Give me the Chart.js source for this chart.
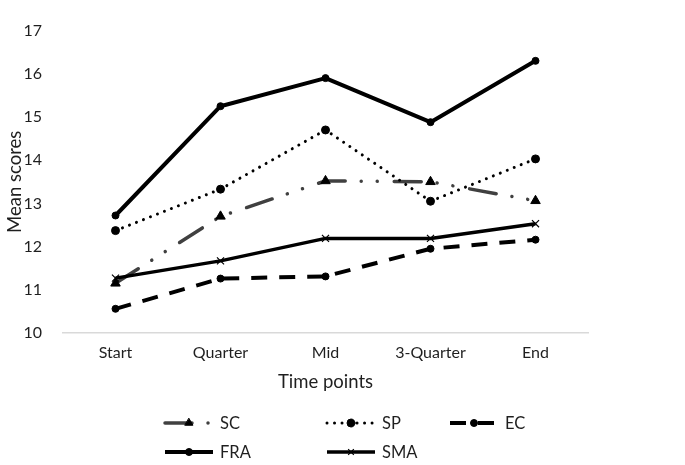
<!DOCTYPE html>
<html>
<head>
<meta charset="utf-8">
<script src="https://cdn.jsdelivr.net/npm/chart.js@4/dist/chart.umd.min.js"></script>
<style>
  html, body { margin: 0; padding: 0; background: #fff; }
  #wrap { width: 685px; height: 465px; }
</style>
</head>
<body>
<div id="wrap"><canvas id="c" width="685" height="465"></canvas></div>
<script>
const categories = ["Start", "Quarter", "Mid", "3-Quarter", "End"];
const seriesNames = ["SC", "SP", "EC", "FRA", "SMA"];
const scValues  = [11.15, 12.70, 13.52, 13.50, 13.06];
const spValues  = [12.37, 13.33, 14.70, 13.05, 14.03];
const ecValues  = [10.56, 11.26, 11.31, 11.95, 12.16];
const fraValues = [12.72, 15.25, 15.90, 14.88, 16.30];
const smaValues = [11.27, 11.67, 12.19, 12.19, 12.53];
const yTicks = [10, 11, 12, 13, 14, 15, 16, 17];
const yTitle = "Mean scores";
const xTitle = "Time points";

const FONT = "Lato, 'Liberation Sans', sans-serif";
const TEXT = "#1f1f1f";

const styles = {
  SC:  { borderColor: "#404040", borderWidth: 3.5, borderDash: [27, 16, 0.01, 16, 0.01, 17], borderCapStyle: "round",
         pointStyle: "triangle", pointRadius: 5.5, legendRadius: 4.5, pointBackgroundColor: "#000", pointBorderColor: "#000", pointBorderWidth: 1 },
  SP:  { borderColor: "#000", borderWidth: 3, borderDash: [0.01, 7.5], borderCapStyle: "round",
         pointStyle: "circle", pointRadius: 4, legendRadius: 4, pointBackgroundColor: "#000", pointBorderColor: "#000", pointBorderWidth: 1 },
  EC:  { borderColor: "#000", borderWidth: 4, borderDash: [16, 12], borderCapStyle: "butt",
         pointStyle: "circle", pointRadius: 3.5, legendRadius: 3.5, pointBackgroundColor: "#000", pointBorderColor: "#000", pointBorderWidth: 1 },
  FRA: { borderColor: "#000", borderWidth: 4, borderDash: [], borderCapStyle: "butt",
         pointStyle: "circle", pointRadius: 3.5, legendRadius: 3.5, pointBackgroundColor: "#000", pointBorderColor: "#000", pointBorderWidth: 1 },
  SMA: { borderColor: "#000", borderWidth: 3.5, borderDash: [], borderCapStyle: "butt",
         pointStyle: "crossRot", pointRadius: 5, legendRadius: 4, pointBackgroundColor: "#000", pointBorderColor: "#000", pointBorderWidth: 1.2 }
};
const valuesByName = { SC: scValues, SP: spValues, EC: ecValues, FRA: fraValues, SMA: smaValues };

const datasets = seriesNames.map((n, i) => {
  const s = styles[n];
  return {
    label: n,
    data: valuesByName[n],
    fill: false,
    tension: 0,
    borderJoinStyle: "round",
    order: seriesNames.length - i,
    borderColor: s.borderColor,
    borderWidth: s.borderWidth,
    borderDash: s.borderDash,
    borderCapStyle: s.borderCapStyle,
    pointStyle: s.pointStyle,
    pointRadius: s.pointRadius,
    pointBackgroundColor: s.pointBackgroundColor,
    pointBorderColor: s.pointBorderColor,
    pointBorderWidth: s.pointBorderWidth
  };
});

// custom legend in two rows like the reference
const legendPlugin = {
  id: "gridLegend",
  afterDraw(chart) {
    const ctx = chart.ctx;
    const cols = [165, 327, 450];
    const rows = [423, 452];
    const sampleLen = 48;
    seriesNames.forEach((n, i) => {
      const s = styles[n];
      const x = cols[i % 3];
      const y = rows[Math.floor(i / 3)];
      ctx.save();
      ctx.strokeStyle = s.borderColor;
      ctx.lineWidth = s.borderWidth;
      ctx.lineCap = s.borderCapStyle;
      ctx.setLineDash(s.borderDash);
      ctx.beginPath();
      ctx.moveTo(x, y);
      ctx.lineTo(x + sampleLen, y);
      ctx.stroke();
      ctx.setLineDash([]);
      ctx.fillStyle = s.pointBackgroundColor;
      ctx.strokeStyle = s.pointBorderColor;
      ctx.lineWidth = s.pointBorderWidth;
      Chart.helpers.drawPoint(ctx, {
        pointStyle: s.pointStyle,
        radius: s.legendRadius,
        borderWidth: s.pointBorderWidth,
        rotation: 0
      }, x + sampleLen / 2, y);
      ctx.restore();
      ctx.save();
      ctx.fillStyle = TEXT;
      ctx.font = "16.5px " + FONT;
      ctx.textBaseline = "middle";
      ctx.textAlign = "left";
      ctx.fillText(n, x + sampleLen + 7, y + 1);
      ctx.restore();
    });
  }
};

const chart = new Chart(document.getElementById("c"), {
  type: "line",
  data: { labels: categories, datasets },
  options: {
    responsive: false,
    animation: false,
    devicePixelRatio: 1,
    layout: { padding: { top: 14, right: 97, bottom: 70, left: 0 } },
    plugins: { legend: { display: false }, tooltip: { enabled: false } },
    scales: {
      x: {
        offset: true,
        grid: { display: false, drawTicks: false },
        border: { display: true, color: "#d9d9d9", width: 1.5 },
        ticks: { color: TEXT, font: { family: FONT, size: 16 }, padding: 10, maxRotation: 0 },
        title: { display: true, text: xTitle, color: TEXT, font: { family: FONT, size: 18.5 }, padding: { top: 0, bottom: 2 } },
        afterFit(scale) { scale.height = 62; }
      },
      y: {
        min: yTicks[0],
        max: yTicks[yTicks.length - 1],
        afterBuildTicks(scale) { scale.ticks = yTicks.map(v => ({ value: v })); },
        grid: { display: false, drawTicks: false },
        border: { display: false },
        ticks: { color: TEXT, font: { family: FONT, size: 16 }, padding: 21 },
        title: { display: true, text: yTitle, color: TEXT, font: { family: FONT, size: 18.5 }, padding: { top: 4, bottom: 0 } },
        afterFit(scale) { scale.width = 63; }
      }
    }
  },
  plugins: [legendPlugin]
});
</script>
</body>
</html>
